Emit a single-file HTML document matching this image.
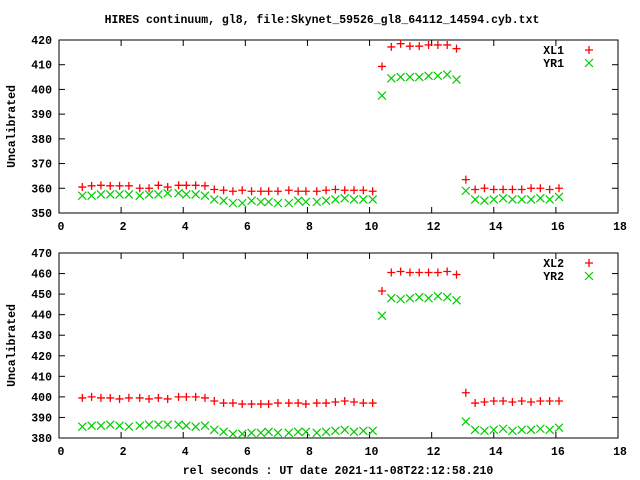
<!DOCTYPE html>
<html><head><meta charset="utf-8"><style>
body{margin:0;background:#fff;}
svg{display:block;font-family:"Liberation Mono",monospace;font-size:11.5px;font-weight:bold;}
</style></head><body>
<svg id="c" width="640" height="480" xmlns="http://www.w3.org/2000/svg">
<rect width="640" height="480" fill="#fff"/>
<text x="322" y="23" text-anchor="middle">HIRES continuum, gl8, file:Skynet_59526_gl8_64112_14594.cyb.txt</text>
<text x="338" y="474" text-anchor="middle">rel seconds : UT date 2021-11-08T22:12:58.210</text>
</svg>
<script>
const xs=[0.75,1.05,1.35,1.65,1.95,2.25,2.6,2.9,3.2,3.5,3.85,4.1,4.4,4.7,5.0,5.3,5.6,5.9,6.2,6.5,6.75,7.05,7.4,7.7,7.95,8.3,8.6,8.9,9.2,9.5,9.8,10.1,10.4,10.7,11.0,11.3,11.6,11.9,12.2,12.5,12.8,13.1,13.4,13.7,14.0,14.3,14.6,14.9,15.2,15.5,15.8,16.1];
const xl1=[360.5,361,361.2,361,361,361,360,360,361.2,360.5,361.2,361.2,361.2,361,359.5,359.2,358.8,359.2,358.8,358.8,358.8,358.8,359.2,358.8,358.8,358.8,359.2,359.5,359.2,359.2,359.2,358.8,409.3,417.2,418.5,417.5,417.5,418,418,418,416.5,363.5,359.5,360,359.5,359.5,359.5,359.5,360,360,359.5,360];
const yr1=[357,357,357.5,357.5,357.5,357.5,357,357.5,357.5,358,358,357.5,357.5,357,355.5,355,354,354,355,354.5,354.5,354,354,355,354.5,354.5,355,355.5,356,355.5,355.5,355.5,397.5,404.5,405,405,405,405.5,405.5,406,404,359,355.5,355,355.5,356,355.5,355.5,355.5,356,355.5,356.5];
const xl2=[399.5,400,399.5,399.5,399,399.5,399.5,399,399.5,399,400,400,400,399.5,398,397,397,396.5,396.5,396.5,396.5,397,397,397,396.5,397,397,397.5,398,397.5,397,397,451.5,460.5,461,460.5,460.5,460.5,460.5,461,459.5,402,397,397.5,398,398,397.5,398,397.5,398,398,398];
const yr2=[385.5,386,386,386.5,386,385.5,386,386.5,386.5,386.5,386.5,386,385.5,386,384,383,382,382,382.5,382.5,383,382.5,382.5,383,383,382.5,383,383.5,384,383,383.5,383.5,439.5,448,447.5,448,448.5,448,449,448.5,447,388,384,383.5,384,384.5,383.5,384,384,384.5,384,385];
const xTicks=[0,2,4,6,8,10,12,14,16,18];
const yTicks1=[350,360,370,380,390,400,410,420];
const yTicks2=[380,390,400,410,420,430,440,450,460,470];
const svg=document.getElementById('c');const NS='http://www.w3.org/2000/svg';
function mk(t,a,txt){const e=document.createElementNS(NS,t);for(const k in a)e.setAttribute(k,a[k]);if(txt!==undefined)e.textContent=txt;svg.appendChild(e);return e;}
function panel(p,top,bot,ymin,ymax,yt,s1,s2,n1,n2){
 const L=59,R=618;
 const X=v=>L+(v-0)/(18-0)*(R-L);
 const Y=v=>bot-(v-ymin)/(ymax-ymin)*(bot-top);
 let f=mk('rect',{x:L,y:top,width:R-L,height:bot-top,fill:'none',stroke:'#000','stroke-width':1});
 
 yt.forEach(v=>{const y=Y(v);mk('line',{x1:L,y1:y,x2:L+6,y2:y,stroke:'#000'});mk('line',{x1:R,y1:y,x2:R-6,y2:y,stroke:'#000'});
  let t=mk('text',{x:L-7,y:y+4,'text-anchor':'end'},v);});
 xTicks.forEach(v=>{const x=X(v);mk('line',{x1:x,y1:bot,x2:x,y2:bot-6,stroke:'#000'});mk('line',{x1:x,y1:top,x2:x,y2:top+6,stroke:'#000'});
  let t=mk('text',{x:x+2,y:bot+17,'text-anchor':'middle'},v);});
 let yl=mk('text',{x:0,y:0,'text-anchor':'middle',transform:`translate(15,${(top+bot)/2}) rotate(-90)`},'Uncalibrated');
 
 function plus(x,y,nm){let g=mk('path',{d:`M${x-4},${y}h8M${x},${y-4}v8`,stroke:'#f00','stroke-width':1.3,fill:'none'});}
 function cross(x,y,nm){let g=mk('path',{d:`M${x-4},${y-4}l8,8M${x-4},${y+4}l8,-8`,stroke:'#0c0','stroke-width':1.2,fill:'none'});}
 xs.forEach((v,i)=>{cross(X(v),Y(s2[i]),'point-'+n2.toLowerCase());plus(X(v),Y(s1[i]),'point-'+n1.toLowerCase());});
 let a=mk('text',{x:564,y:top+14,'text-anchor':'end'},n1);
 plus(589,top+10,'legend-marker-'+n1.toLowerCase());
 let b=mk('text',{x:564,y:top+27,'text-anchor':'end'},n2);
 cross(589,top+23,'legend-marker-'+n2.toLowerCase());
}
panel('top',40,213,350,420,yTicks1,xl1,yr1,'XL1','YR1');
panel('bottom',253,438,380,470,yTicks2,xl2,yr2,'XL2','YR2');
</script>
</body></html>
